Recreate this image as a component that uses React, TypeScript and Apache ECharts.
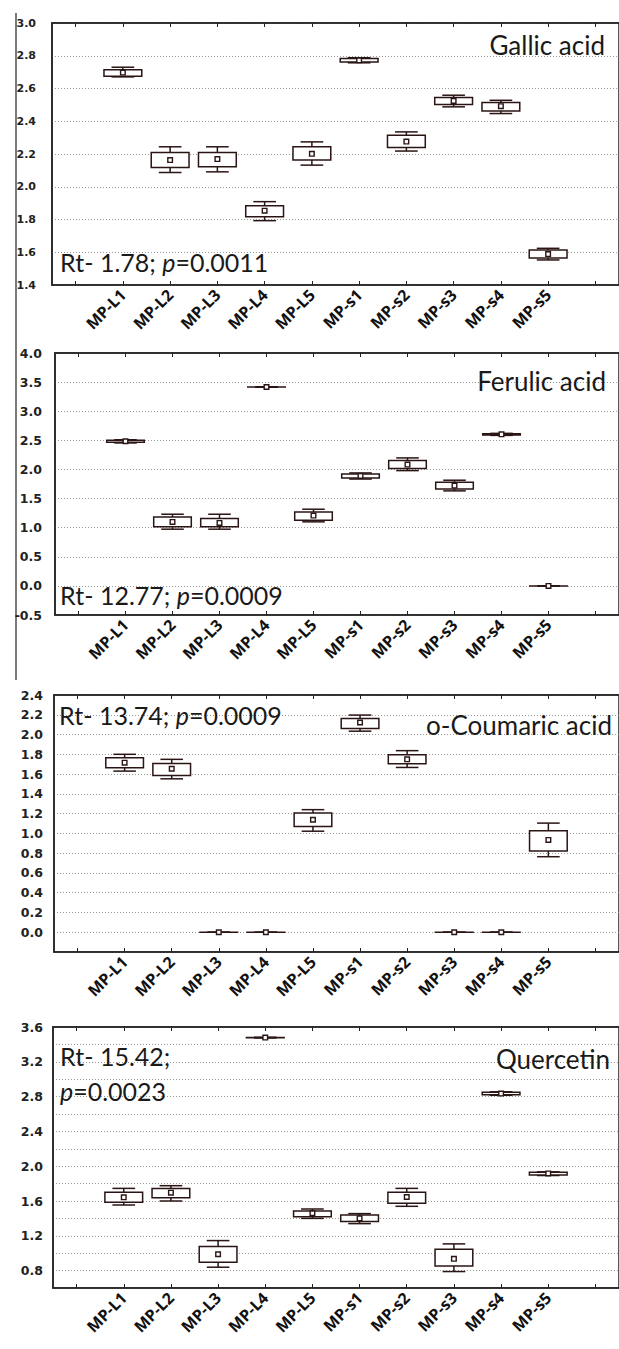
import React, { useEffect, useRef } from "react";
import * as echarts from "echarts";

// Groups (categories)
const groups = ["MP-L1", "MP-L2", "MP-L3", "MP-L4", "MP-L5", "MP-s1", "MP-s2", "MP-s3", "MP-s4", "MP-s5"];

// Each entry: [mean, boxLow, boxHigh, whiskerLow, whiskerHigh]
const gallic = [
  [2.697, 2.675, 2.715, 2.671, 2.73],
  [2.163, 2.118, 2.209, 2.087, 2.244],
  [2.169, 2.122, 2.209, 2.091, 2.244],
  [1.854, 1.817, 1.884, 1.793, 1.909],
  [2.201, 2.163, 2.244, 2.132, 2.274],
  [2.772, 2.762, 2.783, 2.757, 2.788],
  [2.276, 2.24, 2.315, 2.218, 2.335],
  [2.524, 2.502, 2.545, 2.488, 2.559],
  [2.492, 2.463, 2.514, 2.447, 2.528],
  [1.589, 1.565, 1.614, 1.553, 1.624],
];
const ferulic = [
  [2.484, 2.465, 2.5, 2.455, 2.51],
  [1.099, 1.014, 1.185, 0.974, 1.231],
  [1.082, 1.014, 1.157, 0.974, 1.231],
  [3.416, 3.414, 3.418, 3.412, 3.42],
  [1.208, 1.128, 1.271, 1.1, 1.317],
  [1.889, 1.854, 1.92, 1.835, 1.94],
  [2.084, 2.015, 2.152, 1.98, 2.198],
  [1.723, 1.666, 1.78, 1.632, 1.815],
  [2.604, 2.59, 2.615, 2.585, 2.62],
  [0.0, 0.0, 0.0, 0.0, 0.0],
];
const coumaric = [
  [1.715, 1.664, 1.766, 1.63, 1.8],
  [1.654, 1.586, 1.708, 1.552, 1.749],
  [0, 0, 0, 0, 0],
  [0, 0, 0, 0, 0],
  [1.138, 1.07, 1.205, 1.022, 1.24],
  [2.122, 2.061, 2.163, 2.034, 2.197],
  [1.749, 1.705, 1.796, 1.667, 1.837],
  [0, 0, 0, 0, 0],
  [0, 0, 0, 0, 0],
  [0.934, 0.822, 1.026, 0.764, 1.104],
];
const quercetin = [
  [1.642, 1.585, 1.7, 1.554, 1.745],
  [1.696, 1.638, 1.745, 1.6, 1.776],
  [0.988, 0.896, 1.076, 0.839, 1.145],
  [3.478, 3.476, 3.48, 3.474, 3.482],
  [1.459, 1.42, 1.485, 1.4, 1.508],
  [1.401, 1.363, 1.44, 1.34, 1.455],
  [1.646, 1.573, 1.7, 1.539, 1.745],
  [0.935, 0.854, 1.045, 0.789, 1.107],
  [2.835, 2.82, 2.85, 2.815, 2.855],
  [1.917, 1.898, 1.93, 1.893, 1.935],
];

// Y axis scales: [min, max, interval]
const yScales = [
  [1.4, 3.0, 0.2],
  [-0.5, 4.0, 0.5],
  [-0.2, 2.4, 0.2],
  [0.6, 3.6, 0.2],
];
const compoundNames = ["Gallic acid", "Ferulic acid", "o-Coumaric acid", "Quercetin"];
const statTexts = ["Rt- 1.78; {i|p}=0.0011", "Rt- 12.77; {i|p}=0.0009", "Rt- 13.74; {i|p}=0.0009", "Rt- 15.42;\n{i|p}=0.0023"];

export default function App() {
  const ref = useRef<HTMLDivElement>(null);
  useEffect(() => {
    if (!ref.current) return;
    const chart = echarts.init(ref.current, null, { renderer: "svg" });
    const axisCats = ["", ...groups, ""];
    const panels = [gallic, ferulic, coumaric, quercetin];
    const gridPos = [
      { left: 52, top: 23, height: 262 },
      { left: 55, top: 353, height: 262 },
      { left: 54, top: 695, height: 257 },
      { left: 53, top: 1027, height: 261 },
    ];
    const labelMargins = [16, 13, 11, 10];
    const labelSizes = [11, 12.5, 12.5, 12.5];
    const ink = "#2a1414";

    const renderBox = (params: any, api: any) => {
      const idx = api.value(0);
      const mean = api.value(1);
      const bLo = api.value(2);
      const bHi = api.value(3);
      const wLo = api.value(4);
      const wHi = api.value(5);
      const band = api.size([1, 0])[0];
      const bw = band * 0.8;
      const cw = band * 0.48;
      const c = api.coord([idx, mean]);
      const x = c[0];
      const yBH = api.coord([idx, bHi])[1];
      const yBL = api.coord([idx, bLo])[1];
      const yWH = api.coord([idx, wHi])[1];
      const yWL = api.coord([idx, wLo])[1];
      const st = { stroke: ink, fill: "none", lineWidth: 1.5 };
      return {
        type: "group",
        children: [
          { type: "line", shape: { x1: x, y1: yWH, x2: x, y2: yBH }, style: st },
          { type: "line", shape: { x1: x, y1: yBL, x2: x, y2: yWL }, style: st },
          { type: "line", shape: { x1: x - cw / 2, y1: yWH, x2: x + cw / 2, y2: yWH }, style: st },
          { type: "line", shape: { x1: x - cw / 2, y1: yWL, x2: x + cw / 2, y2: yWL }, style: st },
          { type: "rect", shape: { x: x - bw / 2, y: yBH, width: bw, height: Math.max(0.01, yBL - yBH) }, style: { ...st, fill: "#fff" } },
          { type: "rect", shape: { x: x - 2.3, y: c[1] - 2.3, width: 4.6, height: 4.6 }, style: { stroke: ink, fill: "#fff", lineWidth: 1.4 } },
        ],
      };
    };

    const grids = gridPos.map((g) => ({
      left: g.left,
      top: g.top,
      height: g.height,
      width: 572,
      show: true,
      borderColor: "#222",
      borderWidth: 1.5,
      backgroundColor: "transparent",
    }));

    const xAxes: any[] = [];
    const yAxes: any[] = [];
    const series: any[] = [];
    panels.forEach((vals, i) => {
      xAxes.push({
        type: "category",
        gridIndex: i,
        position: "bottom",
        data: axisCats,
        boundaryGap: true,
        axisLine: { show: true, onZero: false, lineStyle: { color: "#222", width: 1.5 } },
        axisTick: { show: true, inside: true, alignWithLabel: true, length: 4, lineStyle: { color: "#222" } },
        axisLabel: {
          show: true,
          interval: 0,
          rotate: 45,
          margin: 7,
          fontFamily: "Open Sans",
          fontWeight: "bold",
          fontSize: 16,
          color: "#111",
        },
        splitLine: { show: false },
      });
      xAxes.push({
        type: "category",
        gridIndex: i,
        position: "top",
        data: axisCats,
        boundaryGap: true,
        axisLine: { show: true, onZero: false, lineStyle: { color: "#222", width: 1.5 } },
        axisTick: { show: true, inside: true, alignWithLabel: true, length: 4, lineStyle: { color: "#222" } },
        axisLabel: { show: false },
        splitLine: { show: false },
      });
      const [mn, mx, iv] = yScales[i];
      yAxes.push({
        type: "value",
        gridIndex: i,
        min: mn,
        max: mx,
        interval: iv,
        axisLine: { show: true, onZero: false, lineStyle: { color: "#222", width: 1.5 } },
        axisTick: { show: false },
        splitLine: { show: true, lineStyle: { color: "#9a9a9a", type: [1, 2], width: 1 } },
        axisLabel: {
          margin: labelMargins[i],
          fontFamily: "DejaVu Sans",
          fontWeight: "bold",
          fontSize: labelSizes[i],
          color: "#222",
          formatter: (v: number) => {
            const r = Math.round(v * 10);
            if (i === 2 && r < 0) return "";
            if (i === 3 && r % 4 !== 0) return "";
            return v.toFixed(1);
          },
        },
      });
      series.push({
        type: "custom",
        xAxisIndex: i * 2,
        yAxisIndex: i,
        renderItem: renderBox,
        encode: { x: 0, y: [1, 2, 3, 4, 5] },
        data: vals.map((d, k) => [k + 1, ...d]),
        z: 5,
      });
    });

    const textFont = { fontFamily: "Lato", fontSize: 25, fill: "#1a1a1a" };
    const nameFont = { fontFamily: "Lato", fontSize: 26, fill: "#1a1a1a" };
    const rich = { i: { fontFamily: "Lato", fontSize: 25, fontStyle: "italic", fill: "#1a1a1a" } };
    const nameSpecs = [
      { x: 605, y: 45 },
      { x: 606, y: 381 },
      { x: 612, y: 725 },
      { x: 610, y: 1059 },
    ];
    const statSpecs = [
      { x: 60, y: 261.5 },
      { x: 60, y: 595 },
      { x: 59, y: 715 },
      { x: 60, y: 1073 },
    ];
    const graphics: any[] = [
      { type: "line", shape: { x1: 16, y1: 13, x2: 16, y2: 680 }, style: { stroke: "#222", lineWidth: 1.2 }, z: 10 },
    ];
    compoundNames.forEach((n, i) => {
      graphics.push({
        type: "text",
        x: nameSpecs[i].x,
        y: nameSpecs[i].y,
        z: 20,
        style: { text: n, ...nameFont, align: "right", textAlign: "right", verticalAlign: "middle", textVerticalAlign: "middle" },
      });
      graphics.push({
        type: "text",
        x: statSpecs[i].x,
        y: statSpecs[i].y,
        z: 20,
        style: {
          text: statTexts[i],
          ...textFont,
          rich,
          lineHeight: 35,
          align: "left",
          textAlign: "left",
          verticalAlign: "middle",
          textVerticalAlign: "middle",
        },
      });
    });

    chart.setOption({
      animation: false,
      backgroundColor: "#fff",
      grid: grids,
      xAxis: xAxes,
      yAxis: yAxes,
      series,
      graphic: graphics,
    });
    return () => chart.dispose();
  }, []);
  return <div ref={ref} style={{ position: "absolute", left: 0, top: 0, width: 619, height: 1349 }} />;
}
